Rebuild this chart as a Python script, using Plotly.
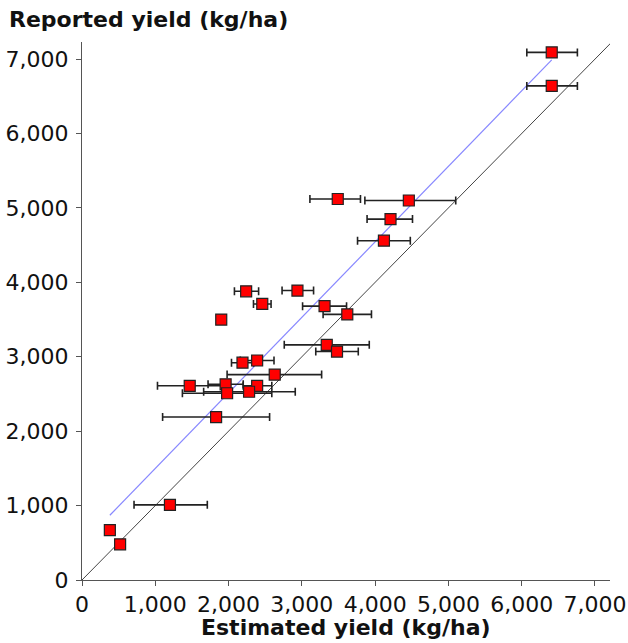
import plotly.graph_objects as go

# Data (kg/ha)
estimated = [6410, 6410, 3490, 4460, 4210, 4120, 2240, 2940, 2460, 1900, 3310, 3620, 3340,
             3480, 2190, 2390, 2630, 1470, 1960, 2390, 1980, 2280, 1830, 1200, 380, 520]
reported = [7090, 6640, 5120, 5100, 4850, 4560, 3880, 3890, 3710, 3500, 3680, 3570, 3160,
            3070, 2920, 2950, 2760, 2610, 2630, 2610, 2510, 2530, 2190, 1010, 670, 480]
est_low = [6070, 6070, 3110, 3860, 3890, 3760, 2080, 2730, 2340, 1900, 3010, 3290, 2760,
           3190, 2040, 2160, 1980, 1030, 1720, 2200, 1370, 1660, 1100, 710, 380, 520]
est_high = [6760, 6760, 3800, 5100, 4510, 4480, 2410, 3160, 2580, 1900, 3610, 3950, 3920,
            3770, 2340, 2620, 3270, 1900, 2200, 2590, 2590, 2910, 2560, 1710, 380, 520]

fit_x = [380, 6410]
fit_y = [870, 6990]
identity = [0, 7400]

tick_vals = [0, 1000, 2000, 3000, 4000, 5000, 6000, 7000]

FONT = "DejaVu Sans"

fig = go.Figure()
fig.add_trace(go.Scatter(x=identity, y=identity, mode="lines",
                         line=dict(color="#444444", width=1), hoverinfo="skip", showlegend=False))
fig.add_trace(go.Scatter(x=fit_x, y=fit_y, mode="lines",
                         line=dict(color="#8888ff", width=1.2), hoverinfo="skip", showlegend=False))
fig.add_trace(go.Scatter(
    x=estimated, y=reported, mode="markers",
    marker=dict(symbol="square", size=11, color="#ff0000", line=dict(color="#222222", width=1.2)),
    error_x=dict(type="data", symmetric=False,
                 array=[h - e for h, e in zip(est_high, estimated)],
                 arrayminus=[e - l for e, l in zip(estimated, est_low)],
                 color="#222222", thickness=1.6, width=4),
    showlegend=False))

axis_common = dict(
    showgrid=False, zeroline=False, showline=True, linecolor="#555555", linewidth=1,
    ticks="outside", ticklen=5, tickcolor="#555555", tickwidth=1,
    tickvals=tick_vals, tickformat=",d", automargin=False,
    tickfont=dict(family=FONT, size=22, color="#111111"),
)

fig.update_layout(
    width=628, height=643,
    margin=dict(l=82, r=18, t=42, b=63, autoexpand=False),
    plot_bgcolor="white", paper_bgcolor="white",
    xaxis=dict(range=[0, 7205], **axis_common),
    yaxis=dict(range=[0, 7230], ticklabelstandoff=3, **axis_common),
    annotations=[
        dict(text="<b>Reported yield (kg/ha)</b>", xref="paper", yref="paper",
             x=-0.142, y=1.041, xanchor="left", yanchor="middle", showarrow=False,
             font=dict(family=FONT, size=22, color="#111111")),
        dict(text="<b>Estimated yield (kg/ha)</b>", xref="paper", yref="paper",
             x=0.5, y=-0.089, xanchor="center", yanchor="middle", showarrow=False,
             font=dict(family=FONT, size=22, color="#111111")),
    ],
)

fig.write_html("out.html")
